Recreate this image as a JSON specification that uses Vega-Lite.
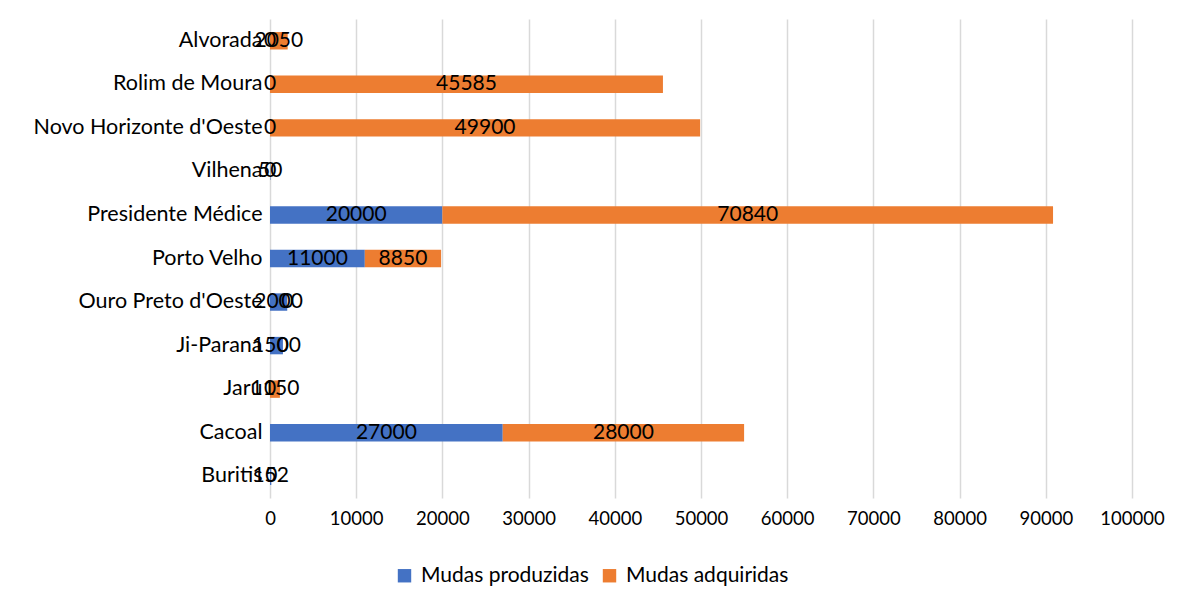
{
  "$schema": "https://vega.github.io/schema/vega-lite/v6.json",
  "autosize": {"type": "none"},
  "width": 862,
  "height": 479,
  "padding": {"left": 270, "top": 19, "right": 58, "bottom": 94},
  "background": "white",
  "config": {
    "view": {"stroke": null},
    "font": "Lato",
    "axis": {"labelFont": "Lato", "labelColor": "#000000", "domain": false, "ticks": false}
  },
  "data": {
    "values": [
      {"municipio": "Alvorada", "serie": "Mudas produzidas", "valor": 0},
      {"municipio": "Alvorada", "serie": "Mudas adquiridas", "valor": 2050},
      {"municipio": "Rolim de Moura", "serie": "Mudas produzidas", "valor": 0},
      {"municipio": "Rolim de Moura", "serie": "Mudas adquiridas", "valor": 45585},
      {"municipio": "Novo Horizonte d'Oeste", "serie": "Mudas produzidas", "valor": 0},
      {"municipio": "Novo Horizonte d'Oeste", "serie": "Mudas adquiridas", "valor": 49900},
      {"municipio": "Vilhena", "serie": "Mudas produzidas", "valor": 50},
      {"municipio": "Vilhena", "serie": "Mudas adquiridas", "valor": 0},
      {"municipio": "Presidente Médice", "serie": "Mudas produzidas", "valor": 20000},
      {"municipio": "Presidente Médice", "serie": "Mudas adquiridas", "valor": 70840},
      {"municipio": "Porto Velho", "serie": "Mudas produzidas", "valor": 11000},
      {"municipio": "Porto Velho", "serie": "Mudas adquiridas", "valor": 8850},
      {"municipio": "Ouro Preto d'Oeste", "serie": "Mudas produzidas", "valor": 2000},
      {"municipio": "Ouro Preto d'Oeste", "serie": "Mudas adquiridas", "valor": 0},
      {"municipio": "Ji-Paraná", "serie": "Mudas produzidas", "valor": 1500},
      {"municipio": "Ji-Paraná", "serie": "Mudas adquiridas", "valor": 0},
      {"municipio": "Jaru", "serie": "Mudas produzidas", "valor": 0},
      {"municipio": "Jaru", "serie": "Mudas adquiridas", "valor": 1150},
      {"municipio": "Cacoal", "serie": "Mudas produzidas", "valor": 27000},
      {"municipio": "Cacoal", "serie": "Mudas adquiridas", "valor": 28000},
      {"municipio": "Buritis", "serie": "Mudas produzidas", "valor": 152},
      {"municipio": "Buritis", "serie": "Mudas adquiridas", "valor": 0}
    ]
  },
  "transform": [
    {"stack": "valor", "groupby": ["municipio"], "sort": [{"field": "serie", "order": "descending"}], "as": ["inicio", "fim"]},
    {"calculate": "(datum.inicio + datum.fim) / 2", "as": "meio"}
  ],
  "encoding": {
    "y": {
      "field": "municipio",
      "type": "nominal",
      "sort": ["Alvorada", "Rolim de Moura", "Novo Horizonte d'Oeste", "Vilhena", "Presidente Médice", "Porto Velho", "Ouro Preto d'Oeste", "Ji-Paraná", "Jaru", "Cacoal", "Buritis"],
      "scale": {"paddingInner": 0.6, "paddingOuter": 0.3},
      "axis": {"title": null, "labelPadding": 8, "grid": false, "labelFontSize": 21.5, "labelLimit": 300}
    }
  },
  "layer": [
    {
      "mark": {"type": "bar"},
      "encoding": {
        "x": {
          "field": "inicio",
          "type": "quantitative",
          "scale": {"domain": [0, 100000], "nice": false},
          "axis": {"title": null, "values": [0, 10000, 20000, 30000, 40000, 50000, 60000, 70000, 80000, 90000, 100000], "format": "d", "grid": true, "gridColor": "#d9d9d9", "gridWidth": 1.5, "labelPadding": 11, "labelFontSize": 18.5, "labelOverlap": false, "labelFlush": false}
        },
        "x2": {"field": "fim"},
        "color": {
          "field": "serie",
          "type": "nominal",
          "scale": {"domain": ["Mudas produzidas", "Mudas adquiridas"], "range": ["#4472C4", "#ED7D31"]},
          "legend": {"title": null, "orient": "none", "direction": "horizontal", "legendX": 124, "legendY": 546, "symbolType": "square", "symbolSize": 180, "symbolStrokeWidth": 0, "symbolOpacity": 1, "labelFontSize": 21, "labelFont": "Lato", "labelColor": "#000000", "columnPadding": 10, "labelOffset": 6, "labelLimit": 300}
        }
      }
    },
    {
      "mark": {"type": "text", "fontSize": 21, "font": "Lato", "color": "#000000", "align": "center", "baseline": "middle"},
      "encoding": {
        "x": {"field": "meio", "type": "quantitative"},
        "text": {"field": "valor", "type": "quantitative", "format": "d"}
      }
    }
  ]
}
